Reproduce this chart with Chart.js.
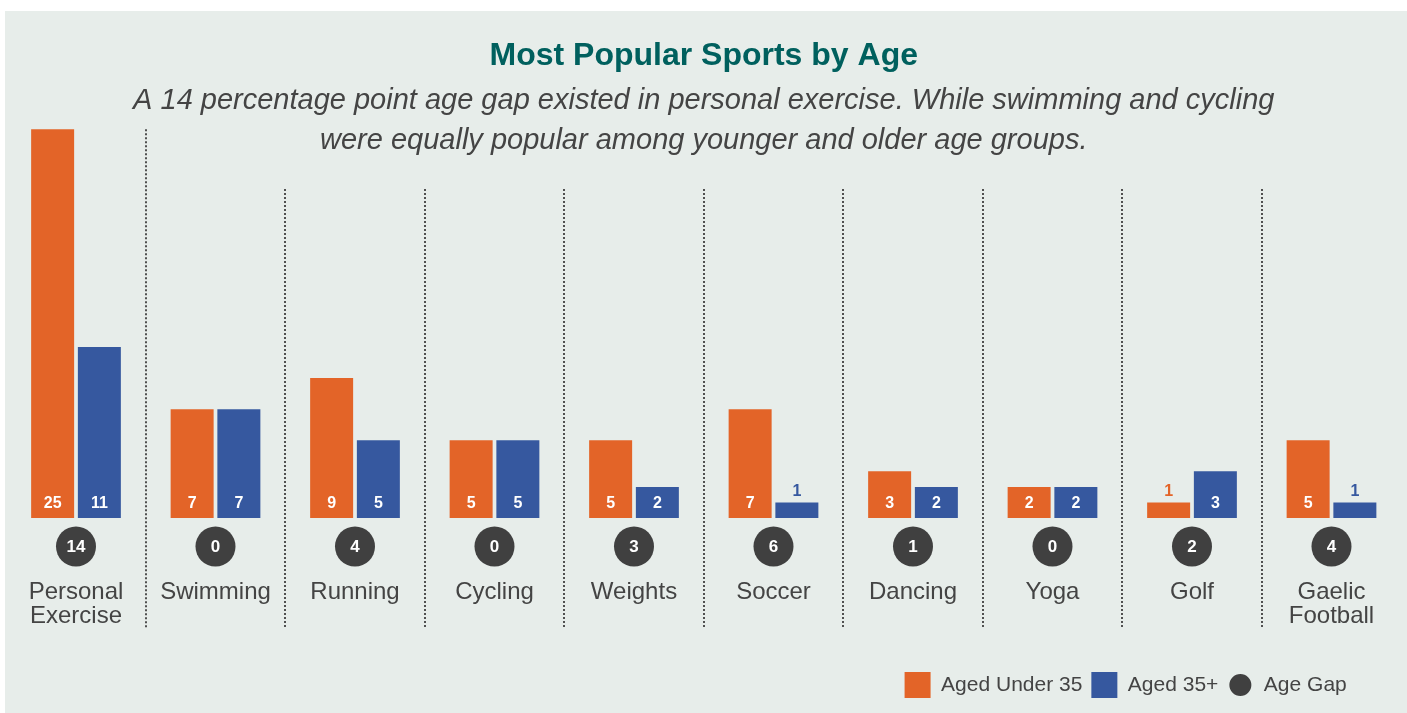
<!DOCTYPE html>
<html>
<head>
<meta charset="utf-8">
<script src="https://cdn.jsdelivr.net/npm/chart.js@4.4.1/dist/chart.umd.min.js"></script>
<style>
  html, body { margin: 0; padding: 0; background: #ffffff; }
  #panel { position: absolute; left: 5px; top: 11px; width: 1402px; height: 702px; background: #e7edea; }
  canvas { display: block; }
</style>
</head>
<body>
<div id="panel"><canvas id="chart" width="1402" height="702"></canvas></div>
<script>
// ---- data ----
const categories = [['Personal', 'Exercise'], 'Swimming', 'Running', 'Cycling', 'Weights', 'Soccer', 'Dancing', 'Yoga', 'Golf', ['Gaelic', 'Football']];
const agedUnder35 = [25, 7, 9, 5, 5, 7, 3, 2, 1, 5];
const aged35Plus = [11, 7, 5, 5, 2, 1, 2, 2, 3, 1];
const ageGap = [14, 0, 4, 0, 3, 6, 1, 0, 2, 4];
const seriesNames = ['Aged Under 35', 'Aged 35+', 'Age Gap'];
const titleText = 'Most Popular Sports by Age';
const subtitleLines = [
  'A 14 percentage point age gap existed in personal exercise. While swimming and cycling',
  'were equally popular among younger and older age groups.'
];

// ---- styles ----
const FONT = '"Liberation Sans", Arial, Helvetica, sans-serif';
const ORANGE = '#e36428';
const BLUE = '#36589f';
const DARK = '#404040';
const TEXT = '#444444';
const PANEL = '#e7edea';

const overlayPlugin = {
  id: 'overlay',
  afterDatasetsDraw(chart) {
    const ctx = chart.ctx;
    const xs = chart.scales.x;
    const ys = chart.scales.y;
    const area = chart.chartArea;

    // dotted separators between categories
    ctx.save();
    ctx.strokeStyle = '#505050';
    ctx.lineWidth = 2;
    ctx.setLineDash([2, 2]);
    const tallest = ys.getPixelForValue(Math.max(...agedUnder35, ...aged35Plus));
    for (let i = 0; i < categories.length - 1; i++) {
      const sx = Math.round((xs.getPixelForValue(i) + xs.getPixelForValue(i + 1)) / 2);
      const top = i === 0 ? tallest : area.top + 13;
      ctx.beginPath();
      ctx.moveTo(sx, top);
      ctx.lineTo(sx, area.bottom + 110);
      ctx.stroke();
    }
    ctx.restore();

    // value labels
    ctx.save();
    ctx.textAlign = 'center';
    ctx.textBaseline = 'middle';
    ctx.font = 'bold 16px ' + FONT;
    chart.data.datasets.forEach((ds, di) => {
      const meta = chart.getDatasetMeta(di);
      if (meta.hidden) return;
      meta.data.forEach((bar, i) => {
        const v = ds.data[i];
        if (v >= 2) {
          ctx.fillStyle = '#ffffff';
          ctx.fillText(String(v), bar.x, bar.base - 14);
        } else {
          ctx.fillStyle = ds.backgroundColor;
          ctx.fillText(String(v), bar.x, bar.y - 11);
        }
      });
    });
    ctx.restore();

    // age gap circles
    ctx.save();
    ctx.textAlign = 'center';
    ctx.textBaseline = 'middle';
    ctx.font = 'bold 17px ' + FONT;
    ageGap.forEach((g, i) => {
      const cx = xs.getPixelForValue(i);
      const cy = area.bottom + 28.5;
      ctx.beginPath();
      ctx.arc(cx, cy, 20, 0, Math.PI * 2);
      ctx.fillStyle = DARK;
      ctx.fill();
      ctx.fillStyle = '#ffffff';
      ctx.fillText(String(g), cx, cy + 1);
    });
    ctx.restore();
  }
};

new Chart(document.getElementById('chart'), {
  type: 'bar',
  data: {
    labels: categories,
    datasets: [
      { label: seriesNames[0], data: agedUnder35, backgroundColor: ORANGE, clip: false,
        barPercentage: 0.92, categoryPercentage: 0.67 },
      { label: seriesNames[1], data: aged35Plus, backgroundColor: BLUE, clip: false,
        barPercentage: 0.92, categoryPercentage: 0.67 }
    ]
  },
  options: {
    responsive: false,
    animation: false,
    layout: { padding: { left: 1.25, right: 5.75, top: 0, bottom: 5 } },
    scales: {
      x: {
        grid: { display: false, drawTicks: true, tickLength: 62 },
        border: { display: false },
        ticks: { color: TEXT, padding: 0, font: { family: FONT, size: 24, lineHeight: 1 }, maxRotation: 0, autoSkip: false },
        afterFit(scale) { scale.height = 145; }
      },
      y: { display: false, min: 0, max: 22 }
    },
    plugins: {
      title: {
        display: true, text: titleText, color: '#00605e',
        font: { family: FONT, size: 32, weight: 'bold', lineHeight: 1.2 },
        padding: { top: 26, bottom: 0 }
      },
      subtitle: {
        display: true, text: subtitleLines, color: TEXT,
        font: { family: FONT, size: 29, style: 'italic', weight: 'normal', lineHeight: 40 / 29 },
        padding: { top: 5.6, bottom: 15 }
      },
      legend: {
        position: 'bottom', align: 'end',
        onClick(e, item, legend) {
          if (item.datasetIndex === undefined) return;
          const ci = legend.chart;
          ci.setDatasetVisibility(item.datasetIndex, !ci.isDatasetVisible(item.datasetIndex));
          ci.update();
        },
        labels: {
          color: TEXT, boxWidth: 26, boxHeight: 26, padding: 9,
          font: { family: FONT, size: 21 },
          generateLabels(chart) {
            return [
              { text: seriesNames[0], fillStyle: ORANGE, strokeStyle: ORANGE, lineWidth: 0, datasetIndex: 0, hidden: !chart.isDatasetVisible(0), fontColor: TEXT },
              { text: seriesNames[1], fillStyle: BLUE, strokeStyle: BLUE, lineWidth: 0, datasetIndex: 1, hidden: !chart.isDatasetVisible(1), fontColor: TEXT },
              { text: seriesNames[2], fillStyle: DARK, strokeStyle: PANEL, lineWidth: 4, borderRadius: 13, fontColor: TEXT },
              { text: '', fillStyle: 'rgba(0,0,0,0)', strokeStyle: 'rgba(0,0,0,0)', lineWidth: 0, fontColor: TEXT }
            ];
          }
        }
      },
      tooltip: { enabled: true }
    }
  },
  plugins: [overlayPlugin]
});
</script>
</body>
</html>
